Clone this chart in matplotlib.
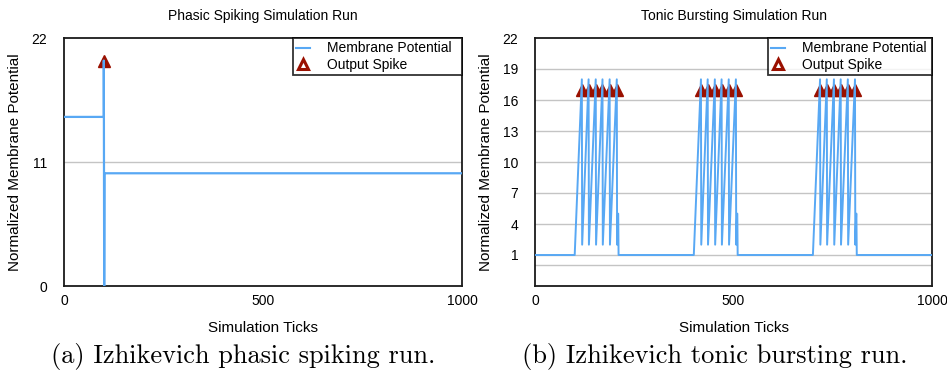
import matplotlib
matplotlib.use('Agg')
from matplotlib import pyplot as plt
from matplotlib.lines import Line2D

plt.rcParams['font.family'] = ['Liberation Sans', 'DejaVu Sans']

# Phasic spiking trace (breakpoints of the potential)
phasic_ticks = [0, 100, 100, 101, 102, 1000]
phasic_vals = [15, 15, 20, 0, 10, 10]
phasic_spike_ticks = [100]
phasic_spike_vals = [20]

# Tonic bursting: three bursts of six spikes each
burst_starts = [100, 400, 700]
burst_peaks = [
    [118, 135, 153, 170, 188, 206],
    [418, 435, 453, 470, 488, 506],
    [718, 735, 753, 770, 788, 806],
]
rest_level = 1
peak_level = 18
reset_level = 2
tail_level = 5
spike_marker_level = 17

tonic_ticks, tonic_vals = [0], [rest_level]
for start, peaks in zip(burst_starts, burst_peaks):
    tonic_ticks.append(start)
    tonic_vals.append(rest_level)
    for p in peaks:
        tonic_ticks += [p, p + 0.8]
        tonic_vals += [peak_level, reset_level]
    tonic_ticks += [peaks[-1] + 3, peaks[-1] + 3.6, peaks[-1] + 4.5]
    tonic_vals += [tail_level, tail_level, rest_level]
tonic_ticks.append(1000)
tonic_vals.append(rest_level)

tonic_spike_ticks = [p for peaks in burst_peaks for p in peaks]
tonic_spike_vals = [spike_marker_level] * len(tonic_spike_ticks)

line_color = '#58A8F4'
spike_color = '#9A1000'
grid_color = '#C4C4C4'

fig = plt.figure(figsize=(9.47, 3.70), dpi=100)
ax1 = fig.add_axes([64 / 947, 1 - 286 / 370, 398 / 947, 248 / 370])
ax2 = fig.add_axes([535 / 947, 1 - 286 / 370, 397 / 947, 248 / 370])


def style(ax, title, leg_width):
    ax.set_title(title, fontsize=10, pad=13)
    ax.set_xlabel('Simulation Ticks', fontsize=11, labelpad=9)
    ax.set_ylabel('Normalized Membrane Potential', fontsize=11, labelpad=7)
    ax.set_xlim(0, 1000)
    ax.set_xticks([0, 500, 1000])
    ax.tick_params(axis='y', length=0, pad=12, labelsize=10)
    ax.tick_params(axis='x', length=0, pad=6, labelsize=10)
    for s in ax.spines.values():
        s.set_linewidth(1.3)
        s.set_color('#1a1a1a')
    handles = [
        Line2D([], [], color=line_color, lw=1.5),
        Line2D([], [], ls='none', marker='^', ms=7, mfc='white',
               mec=spike_color, mew=2.2),
    ]
    # legend box pinned to the top-right corner, a fixed width wide
    leg = ax.legend(handles, ['Membrane Potential', 'Output Spike'],
                    loc='upper left', mode='expand',
                    bbox_to_anchor=(1 - leg_width, 0, leg_width, 1),
                    fontsize=10, frameon=True,
                    fancybox=False, borderaxespad=0, borderpad=0.25,
                    handlelength=1.0, handletextpad=1.2, labelspacing=0.15)
    leg.get_frame().set_edgecolor('black')
    leg.get_frame().set_linewidth(1.3)
    leg.set_zorder(5)


# (a) phasic spiking
ax1.set_ylim(0, 22)
ax1.set_yticks([0, 11, 22])
ax1.axhline(11, color=grid_color, lw=1, zorder=0)
ax1.plot(phasic_spike_ticks, phasic_spike_vals, ls='none', marker='^',
         ms=8, color=spike_color, zorder=2)
ax1.plot(phasic_ticks, phasic_vals, color=line_color, lw=1.6, zorder=3)
style(ax1, 'Phasic Spiking Simulation Run', 169 / 398)

# (b) tonic bursting
ax2.set_ylim(-2, 22)
yt = [1, 4, 7, 10, 13, 16, 19, 22]
ax2.set_yticks(yt)
for v in [0] + yt[:-1]:
    ax2.axhline(v, color=grid_color, lw=1, zorder=0)
ax2.plot(tonic_spike_ticks, tonic_spike_vals, ls='none', marker='^',
         ms=8, color=spike_color, zorder=2)
ax2.plot(tonic_ticks, tonic_vals, color=line_color, lw=1.4, zorder=3)
style(ax2, 'Tonic Bursting Simulation Run', 164 / 397)

fig.text(243 / 947, 1 - 357 / 370, '(a) Izhikevich phasic spiking run.',
         family='cmr10', fontsize=19, ha='center', va='center')
fig.text(715 / 947, 1 - 357 / 370, '(b) Izhikevich tonic bursting run.',
         family='cmr10', fontsize=19, ha='center', va='center')

fig.savefig('out.png', dpi=100)
